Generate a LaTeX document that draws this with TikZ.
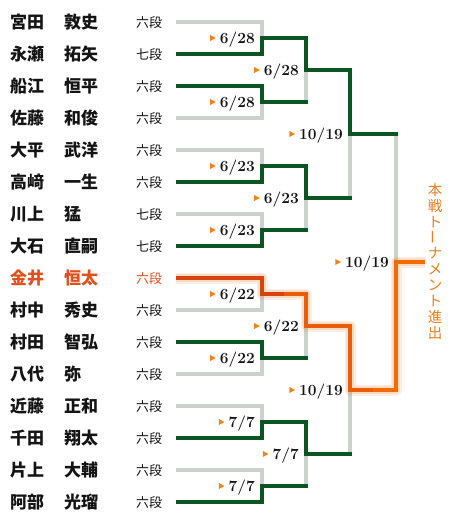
\documentclass[tikz,border=0pt]{standalone}
\usepackage{fontspec}
\usetikzlibrary{calc}
\newfontfamily\jp{Noto Sans CJK JP}
\definecolor{lgray}{RGB}{201,211,203}
\definecolor{tgreen}{RGB}{12,85,32}
\definecolor{oA}{RGB}{216,66,14}
\definecolor{oB}{RGB}{234,92,8}
\definecolor{oC}{RGB}{243,107,0}
\definecolor{ored}{RGB}{222,80,28}
\definecolor{otext}{RGB}{230,128,30}
\definecolor{tri}{RGB}{245,130,20}
\definecolor{ink}{RGB}{20,20,20}
\newcommand\mydate[3]{%
  \node[datestyle] (#1) at ($(#2)+(-7,5.2)$) {#3};
  \fill[tri] (#1.base west) ++(-4,-5.2) -- ++(-5.5,-3) -- ++(0,6) -- cycle;}
\begin{document}
\begin{tikzpicture}[x=1pt,y=-1pt,
  namestyle/.style={anchor=west,inner sep=0pt,font=\jp\bfseries\fontsize{17}{17}\selectfont},
  rankstyle/.style={anchor=west,inner sep=0pt,font=\jp\fontsize{13}{13}\selectfont},
  datestyle/.style={anchor=base east,inner sep=0pt,font=\bfseries\fontsize{15.5}{15.5}\selectfont,text=ink},
  gl/.style={line width=4pt,draw=lgray},
  gr/.style={line width=4pt,draw=tgreen},
  lose/.style={shorten >=-2pt},
  glow/.style={line width=#1,draw=oC,opacity=0.12,line join=round},
  orl/.style={line width=4pt,draw=#1},
  vt/.style={inner sep=0pt,text=otext,font=\jp\fontsize{14.5}{14.5}\selectfont}]
\path[use as bounding box] (0,0) rectangle (460,524);

\foreach \i/\sn/\gn/\rk/\col in {0/宮田/敦史/六段/ink,1/永瀬/拓矢/七段/ink,2/船江/恒平/六段/ink,3/佐藤/和俊/六段/ink,4/大平/武洋/六段/ink,5/高﨑/一生/六段/ink,6/川上/猛/七段/ink,7/大石/直嗣/七段/ink,8/金井/恒太/六段/ored,9/村中/秀史/六段/ink,10/村田/智弘/六段/ink,11/八代/弥/六段/ink,12/近藤/正和/六段/ink,13/千田/翔太/六段/ink,14/片上/大輔/六段/ink,15/阿部/光瑠/六段/ink}{
  \node[namestyle,text=\col] (n\i) at (10,{22+32*\i}) {\sn};
  \node[namestyle,text=\col] (g\i) at (64,{22+32*\i}) {\gn};
  \node[rankstyle,text=\col] (r\i) at (136,{23+32*\i}) {\rk};
  \coordinate (s\i) at (176,{22+32*\i});
}

\coordinate (m1a) at (262,38);  \coordinate (m1b) at (262,102);
\coordinate (m1c) at (262,166); \coordinate (m1d) at (262,230);
\coordinate (m1e) at (262,294); \coordinate (m1f) at (262,358);
\coordinate (m1g) at (262,422); \coordinate (m1h) at (262,486);
\coordinate (m2a) at (306,70);  \coordinate (m2b) at (306,198);
\coordinate (m2c) at (306,326); \coordinate (m2d) at (306,454);
\coordinate (m3a) at (350,134); \coordinate (m3b) at (350,390);
\coordinate (m4) at (396,262);
\coordinate (fin) at (425,262);
\coordinate (o1) at (284,294);
\coordinate (o2) at (373,390);

% losers, round 1
\foreach \p/\m in {s0/m1a,s3/m1b,s4/m1c,s6/m1d,s9/m1e,s11/m1f,s12/m1g,s14/m1h}
  \draw[gl] (\p) -| (\m);
% losers, later rounds (vertical)
\draw[gl] (m1b -| m2a) -- (m2a);
\draw[gl] (m1d -| m2b) -- (m2b);
\draw[gl] (m1f -| m2c) -- (m2c);
\draw[gl] (m1h -| m2d) -- (m2d);
\draw[gl] (m2b -| m3a) -- (m3a);
\draw[gl] (m2d -| m3b) -- (m3b);
\draw[gl] (m3a -| m4) -- (m4);

% winners in green
\draw[gr,lose] (s1) -| (m1a) -| (m2a) -| (m3a) -- (m3a -| m4);
\draw[gr,lose] (s2) -| (m1b) -- (m1b -| m2a);
\draw[gr,lose] (s5) -| (m1c) -| (m2b) -- (m2b -| m3a);
\draw[gr,lose] (s7) -| (m1d) -- (m1d -| m2b);
\draw[gr,lose] (s10) -| (m1f) -- (m1f -| m2c);
\draw[gr,lose] (s13) -| (m1g) -| (m2d) -- (m2d -| m3b);
\draw[gr,lose] (s15) -| (m1h) -- (m1h -| m2d);

% champion path in orange with glow
\draw[glow=11pt] (s8) -| (m1e) -| (m2c) -| (m3b) -| (m4) -- (fin);
\draw[glow=8pt] (s8) -| (m1e) -| (m2c) -| (m3b) -| (m4) -- (fin);
\draw[orl=oA] (s8) -| (m1e) -- (o1);
\draw[orl=oB] (o1) -| (m2c) -| (m3b) -- (o2);
\draw[orl=oC] (o2) -| (m4) -- (fin);

% dates
\mydate{d1a}{m1a}{6/28}
\mydate{d1b}{m1b}{6/28}
\mydate{d1c}{m1c}{6/23}
\mydate{d1d}{m1d}{6/23}
\mydate{d1e}{m1e}{6/22}
\mydate{d1f}{m1f}{6/22}
\mydate{d1g}{m1g}{7/7}
\mydate{d1h}{m1h}{7/7}
\mydate{d2a}{m2a}{6/28}
\mydate{d2b}{m2b}{6/23}
\mydate{d2c}{m2c}{6/22}
\mydate{d2d}{m2d}{7/7}
\mydate{d3a}{m3a}{10/19}
\mydate{d3b}{m3b}{10/19}
\mydate{d4}{m4}{10/19}

% vertical caption
\foreach \ch/\ang [count=\k from 0] in {本/0,戦/0,ト/0,ー/90,ナ/0,メ/0,ン/0,ト/0,進/0,出/0}
  \node[vt,rotate=\ang] (v\k) at (435,{190+15.9*\k}) {\ch};
\end{tikzpicture}
\end{document}
